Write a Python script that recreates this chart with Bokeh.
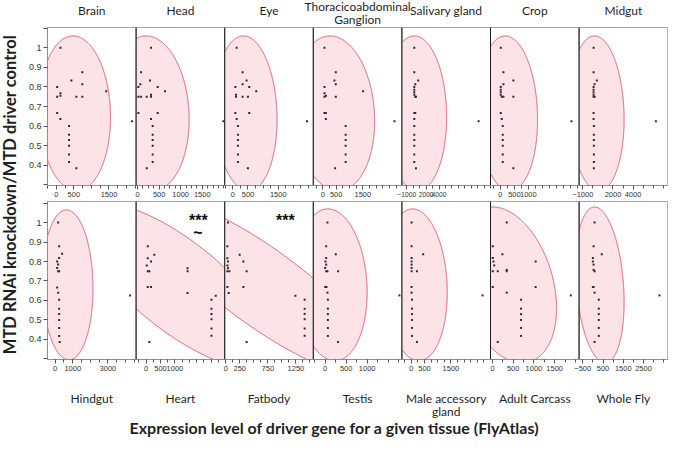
import numpy as np
from bokeh.plotting import figure
from bokeh.models import Range1d, LinearAxis, FixedTicker, CustomJSTickFormatter, Label, AllLabels
from bokeh.embed import file_html
from bokeh.resources import INLINE

# ---------------- data ----------------
top_names = ["Brain", "Head", "Eye", "Thoracicoabdominal\nGanglion", "Salivary gland", "Crop", "Midgut"]
bottom_names = ["Hindgut", "Heart", "Fatbody", "Testis", "Male accessory\ngland", "Adult Carcass", "Whole Fly"]
y_title = "MTD RNAi knockdown/MTD driver control"
x_title = "Expression level of driver gene for a given tissue (FlyAtlas)"

brain_x = [118, 741, 430, 741, 25, 118, 118, 25, 571, 741, 1421, 25, 118, 364, 364, 364, 364, 364, 364, 571, 2158]
brain_y = [1.0, 0.875, 0.833, 0.813, 0.8, 0.767, 0.755, 0.75, 0.75, 0.75, 0.778, 0.667, 0.636, 0.6, 0.556, 0.529, 0.5, 0.455, 0.417, 0.385, 0.625]
head_x = [311, 80, 288, 64, 18, 466, 635, 18, 80, 212, 311, 311, 18, 466, 311, 350, 350, 350, 350, 350, 350, 212, 1990]
head_y = [1.0, 0.875, 0.833, 0.813, 0.8, 0.8, 0.778, 0.75, 0.75, 0.75, 0.76, 0.75, 0.667, 0.667, 0.636, 0.6, 0.556, 0.529, 0.5, 0.455, 0.417, 0.385, 0.625]
eye_x = [125, 322, 454, 322, 82, 542, 773, 102, 102, 322, 497, 82, 542, 125, 168, 168, 168, 168, 168, 168, 497, 2450]
eye_y = [1.0, 0.875, 0.833, 0.813, 0.8, 0.8, 0.778, 0.76, 0.75, 0.75, 0.75, 0.667, 0.667, 0.636, 0.6, 0.556, 0.529, 0.5, 0.455, 0.417, 0.385, 0.625]
thor_x = [60, 484, 432, 484, 60, 1510, 60, 112, 60, 484, 60, 112, 112, 855, 855, 855, 855, 855, 855, 458, 2688]
thor_y = [1.0, 0.875, 0.833, 0.813, 0.8, 0.778, 0.767, 0.755, 0.75, 0.75, 0.667, 0.667, 0.636, 0.6, 0.556, 0.529, 0.5, 0.455, 0.417, 0.385, 0.625]
saliv_x = [154, 154, 769, 308, 154, 154, 154, 154, 308, 415, 154, 308, 154, 154, 154, 154, 154, 154, 154, 415, 10154]
saliv_y = [1.0, 0.875, 0.833, 0.813, 0.8, 0.786, 0.773, 0.76, 0.75, 0.75, 0.667, 0.667, 0.636, 0.6, 0.556, 0.529, 0.5, 0.455, 0.417, 0.385, 0.625]
crop_x = [11, 107, 464, 107, 11, 11, 11, 11, 48, 107, 464, 11, 48, 82, 82, 82, 82, 82, 82, 464, 2546]
crop_y = [1.0, 0.875, 0.833, 0.813, 0.8, 0.786, 0.773, 0.76, 0.75, 0.75, 0.75, 0.667, 0.636, 0.6, 0.556, 0.529, 0.5, 0.455, 0.417, 0.385, 0.625]
midgut_x = [69, 69, 392, 167, 69, 69, 69, 69, 167, 69, 69, 69, 98, 98, 98, 98, 98, 98, 98, 6275]
midgut_y = [1.0, 0.875, 0.833, 0.813, 0.8, 0.786, 0.773, 0.76, 0.75, 0.75, 0.667, 0.636, 0.6, 0.556, 0.529, 0.5, 0.455, 0.417, 0.385, 0.625]
hind_x = [170, 226, 396, 226, 113, 170, 113, 170, 226, 113, 170, 226, 226, 226, 226, 226, 226, 260, 4264]
hind_y = [1.0, 0.878, 0.84, 0.818, 0.8, 0.784, 0.767, 0.75, 0.75, 0.667, 0.64, 0.604, 0.558, 0.53, 0.5, 0.459, 0.418, 0.387, 0.626]
heart_x = [59, 286, 59, 172, 24, 59, 114, 59, 172, 114, 1438, 1438, 1438, 2414, 2266, 2266, 2266, 2266, 2266, 2266]
heart_y = [0.878, 0.835, 0.817, 0.8, 0.78, 0.75, 0.75, 0.669, 0.669, 0.387, 0.765, 0.75, 0.638, 0.624, 0.604, 0.557, 0.531, 0.504, 0.456, 0.419]
fat_x = [41, 30, 248, 30, 41, 30, 41, 30, 65, 314, 372, 30, 314, 53, 1241, 1406, 1406, 1406, 1406, 1406, 1406, 372]
fat_y = [1.0, 0.878, 0.835, 0.817, 0.8, 0.78, 0.766, 0.75, 0.75, 0.8, 0.75, 0.669, 0.669, 0.638, 0.624, 0.604, 0.557, 0.531, 0.504, 0.456, 0.419, 0.387]
testis_x = [54, 24, 252, 24, 8, 24, 0, 24, 54, 307, 0, 31, 54, 64, 64, 64, 64, 64, 64, 307, 1769]
testis_y = [1.0, 0.878, 0.837, 0.818, 0.8, 0.784, 0.767, 0.75, 0.75, 0.75, 0.669, 0.669, 0.64, 0.604, 0.558, 0.53, 0.5, 0.459, 0.418, 0.387, 0.626]
male_x = [11, 11, 449, 11, 11, 11, 11, 11, 213, 11, 11, 25, 25, 25, 25, 25, 25, 213, 2697]
male_y = [1.0, 0.878, 0.837, 0.818, 0.8, 0.784, 0.767, 0.75, 0.75, 0.669, 0.64, 0.604, 0.558, 0.53, 0.5, 0.459, 0.418, 0.387, 0.626]
carc_x = [343, 7, 240, 7, 24, 41, 343, 343, 7, 127, 1040, 7, 343, 1040, 689, 689, 689, 689, 689, 689, 127, 1890]
carc_y = [1.0, 0.878, 0.837, 0.818, 0.8, 0.78, 0.757, 0.75, 0.75, 0.75, 0.8, 0.669, 0.64, 0.669, 0.604, 0.558, 0.53, 0.5, 0.459, 0.418, 0.387, 0.626]
fly_x = [83, 34, 437, 0, 0, 34, 34, 83, 0, 34, 83, 292, 292, 292, 292, 292, 292, 83, 3291]
fly_y = [1.0, 0.878, 0.837, 0.818, 0.8, 0.784, 0.757, 0.75, 0.669, 0.669, 0.64, 0.604, 0.558, 0.53, 0.5, 0.459, 0.418, 0.387, 0.626]

panel_x = [brain_x, head_x, eye_x, thor_x, saliv_x, crop_x, midgut_x,
           hind_x, heart_x, fat_x, testis_x, male_x, carc_x, fly_x]
panel_y = [brain_y, head_y, eye_y, thor_y, saliv_y, crop_y, midgut_y,
           hind_y, heart_y, fat_y, testis_y, male_y, carc_y, fly_y]

# axis limits and tick labels of each panel
x_lo = [-250, -35, -270, -360, -1769, -357, -1373, -436, -345, -18, -283, -356, -48, -681]
x_hi = [2272, 2021, 2658, 2967, 12000, 2821, 7451, 4604, 2724, 1560, 1828, 2996, 2089, 3695]
x_tick_labels = [[0, 500, 1500], [0, 500, 1000, 1500], [0, 500, 1500], [0, 500, 1500],
                 [-1000, 2000, 4000], [0, 500, 1000], [-1000, 2000, 4000],
                 [0, 1000, 3000], [0, 500, 1000], [0, 250, 750, 1250], [0, 500, 1000],
                 [0, 500, 1500], [0, 500, 1000, 1500], [-500, 500, 1500, 2500]]
x_minor_step = [250, 125, 250, 250, 1000, 250, 1000, 500, 250, 125, 250, 250, 250, 500]
y_lo = [0.297, 0.297]
y_hi = [1.103, 1.108]
y_ticks = [0.3, 0.4, 0.5, 0.6, 0.7, 0.8, 0.9, 1.0, 1.1]

# density ellipses (centre, half extents, correlation)
ell_cx = [529, 270, 430, 424, 394, 254, 385, 712, 1100, 650, 150, 168, 357, 346]
ell_cy = [0.665, 0.665, 0.665, 0.665, 0.665, 0.665, 0.665, 0.68, 0.675, 0.668, 0.68, 0.68, 0.68, 0.68]
ell_rx = [1014, 926, 1030, 1521, 4791, 1078, 2723, 1440, 3380, 2070, 850, 1192, 1189, 1195]
ell_ry = [0.395, 0.395, 0.395, 0.395, 0.395, 0.395, 0.395, 0.385, 0.424, 0.456, 0.39, 0.39, 0.40, 0.40]
ell_rho = [-0.05, -0.08, -0.08, -0.1, -0.05, -0.08, -0.08, -0.05, -0.75, -0.85, -0.1, -0.1, -0.3, -0.22]

# significance marks: (panel, x, y, text)
marks = [(8, 1810, 1.013, "***"), (8, 1800, 0.95, "~"), (9, 1064, 1.01, "***")]

# ---------------- layout ----------------
W, H = 668, 437
PL, PW = 47, 88.6
ROW_T = [27, 201]
ROW_B = [185, 359]
TICK_FONT = 7.5

FILL = "#fbe3e7"
EDGE = "#d9546d"
DOT = "#3a2630"
TXT = "#1f1f1f"


def yb(yc):
    return H - yc


def clip_poly(xs, ys, x0, x1, y0, y1):
    pts = list(zip(xs, ys))

    def clip(pts, inside, inter):
        out = []
        for i in range(len(pts)):
            cur, prev = pts[i], pts[i - 1]
            if inside(cur):
                if not inside(prev):
                    out.append(inter(prev, cur))
                out.append(cur)
            elif inside(prev):
                out.append(inter(prev, cur))
        return out

    def ix(p, q, v):
        t = (v - p[0]) / (q[0] - p[0])
        return (v, p[1] + t * (q[1] - p[1]))

    def iy(p, q, v):
        t = (v - p[1]) / (q[1] - p[1])
        return (p[0] + t * (q[0] - p[0]), v)

    pts = clip(pts, lambda p: p[0] >= x0, lambda p, q: ix(p, q, x0))
    pts = clip(pts, lambda p: p[0] <= x1, lambda p, q: ix(p, q, x1))
    pts = clip(pts, lambda p: p[1] >= y0, lambda p, q: iy(p, q, y0))
    pts = clip(pts, lambda p: p[1] <= y1, lambda p, q: iy(p, q, y1))
    return [a for a, b in pts], [b for a, b in pts]


p = figure(width=W, height=H, x_range=Range1d(0, W), y_range=Range1d(0, H),
           x_axis_type=None, y_axis_type=None, toolbar_location=None,
           output_backend="svg", min_border=0, outline_line_color=None)
p.background_fill_color = "white"
p.border_fill_color = "white"

# row ranges
for r in range(2):
    k = (ROW_B[r] - ROW_T[r]) / (y_hi[r] - y_lo[r])
    p.extra_y_ranges["y%d" % r] = Range1d(y_lo[r] - (H - ROW_B[r]) / k, y_hi[r] + ROW_T[r] / k)

t = np.linspace(0, 2 * np.pi, 1441)
for i in range(14):
    r, c = divmod(i, 7)
    left = PL + c * PW
    lo, hi = x_lo[i], x_hi[i]
    k = PW / (hi - lo)
    xn, yn = "x%d" % i, "y%d" % r
    p.extra_x_ranges[xn] = Range1d(lo - left / k, hi + (W - left - PW) / k)
    ylo, yhi = y_lo[r], y_hi[r]

    # ellipse
    rho = ell_rho[i]
    ex = ell_cx[i] + ell_rx[i] * np.cos(t)
    ey = ell_cy[i] + ell_ry[i] * (rho * np.cos(t) + np.sqrt(1 - rho ** 2) * np.sin(t))
    fx, fy = clip_poly(ex, ey, lo, hi, ylo, yhi)
    p.patch(fx, fy, fill_color=FILL, line_color=None, x_range_name=xn, y_range_name=yn)
    inside = (ex >= lo) & (ex <= hi) & (ey >= ylo) & (ey <= yhi)
    p.line(np.where(inside, ex, np.nan), np.where(inside, ey, np.nan), line_color=EDGE,
           line_width=1, x_range_name=xn, y_range_name=yn)

    # points
    p.scatter(panel_x[i], panel_y[i], marker="square", size=2, fill_color=DOT, line_color=None,
              x_range_name=xn, y_range_name=yn)

    # frame
    p.quad(left=[lo], right=[hi], bottom=[ylo], top=[yhi], fill_color=None,
           line_color="#a3a3a3", line_width=1, x_range_name=xn, y_range_name=yn)
    if c > 0:
        p.segment(x0=[lo], y0=[ylo], x1=[lo], y1=[yhi], line_color="#1a1a1a",
                  line_width=1, x_range_name=xn, y_range_name=yn)

    # x axis; shrink the label font where labels are crowded
    ticks = x_tick_labels[i]
    font = TICK_FONT
    for a, b in zip(ticks[:-1], ticks[1:]):
        gap = (b - a) * k
        need = (len(str(a)) + len(str(b))) / 2 * 0.556
        font = min(font, (gap + 2) / need)
    step = x_minor_step[i]
    minors = list(np.arange(np.ceil(lo / step) * step, hi + 1e-9, step))
    ax = LinearAxis(x_range_name=xn, y_range_name=yn, fixed_location=ylo, bounds=(lo, hi),
                    ticker=FixedTicker(ticks=ticks, minor_ticks=minors),
                    major_label_policy=AllLabels())
    ax.axis_line_color = "#8f8f8f"
    ax.major_tick_line_color = "#555555"
    ax.minor_tick_line_color = "#555555"
    ax.major_tick_out = 4
    ax.major_tick_in = 0
    ax.minor_tick_out = 3
    ax.minor_tick_in = 0
    ax.major_label_standoff = 2
    ax.major_label_text_font = "Liberation Sans"
    ax.major_label_text_font_size = "%.1fpx" % font
    ax.major_label_text_color = "#333333"
    p.add_layout(ax, "below")

    # y axis on first column
    if c == 0:
        ay = LinearAxis(x_range_name=xn, y_range_name=yn, fixed_location=lo, bounds=(ylo, yhi),
                        ticker=FixedTicker(ticks=y_ticks, minor_ticks=[]),
                        major_label_policy=AllLabels(),
                        formatter=CustomJSTickFormatter(code="return (tick < 0.35 || tick > 1.05) ? '' : (Math.round(tick*10)/10).toString();"))
        ay.axis_line_color = "#8f8f8f"
        ay.major_tick_line_color = "#555555"
        ay.major_tick_out = 4
        ay.major_tick_in = 0
        ay.major_label_standoff = 2
        ay.major_label_text_font = "Liberation Sans"
        ay.major_label_text_font_size = "9px"
        ay.major_label_text_color = "#333333"
        p.add_layout(ay, "left")

# panel names
for c in range(7):
    cx = PL + (c + 0.5) * PW
    lines = top_names[c].split("\n")
    ys = [10] if len(lines) == 1 else [5.5, 19]
    for ln, yy in zip(lines, ys):
        p.add_layout(Label(x=cx, y=yb(yy), text=ln, text_align="center", text_baseline="middle",
                           text_font="Lato", text_font_size="12px", text_color=TXT))
    lines = bottom_names[c].split("\n")
    for j, ln in enumerate(lines):
        p.add_layout(Label(x=cx, y=yb(398 + 13 * j), text=ln, text_align="center", text_baseline="middle",
                           text_font="Lato", text_font_size="12px", text_color=TXT))

# significance marks
for (i, mx, my, mt) in marks:
    p.add_layout(Label(x=mx, y=my, text=mt, x_range_name="x%d" % i, y_range_name="y%d" % (i // 7),
                       text_align="center", text_baseline="middle", text_font="Liberation Sans",
                       text_font_style="bold", text_font_size="16px", text_color="#111111"))

# axis titles
p.add_layout(Label(x=9, y=yb(194), text=y_title, angle=np.pi / 2, text_align="center",
                   text_baseline="middle", text_font="Lato", text_font_style="bold",
                   text_font_size="16.5px", text_color=TXT))
p.add_layout(Label(x=334, y=yb(427), text=x_title, text_align="center", text_baseline="middle",
                   text_font="Lato", text_font_style="bold", text_font_size="16px", text_color=TXT))

open("out.html", "w").write(file_html(p, INLINE))
